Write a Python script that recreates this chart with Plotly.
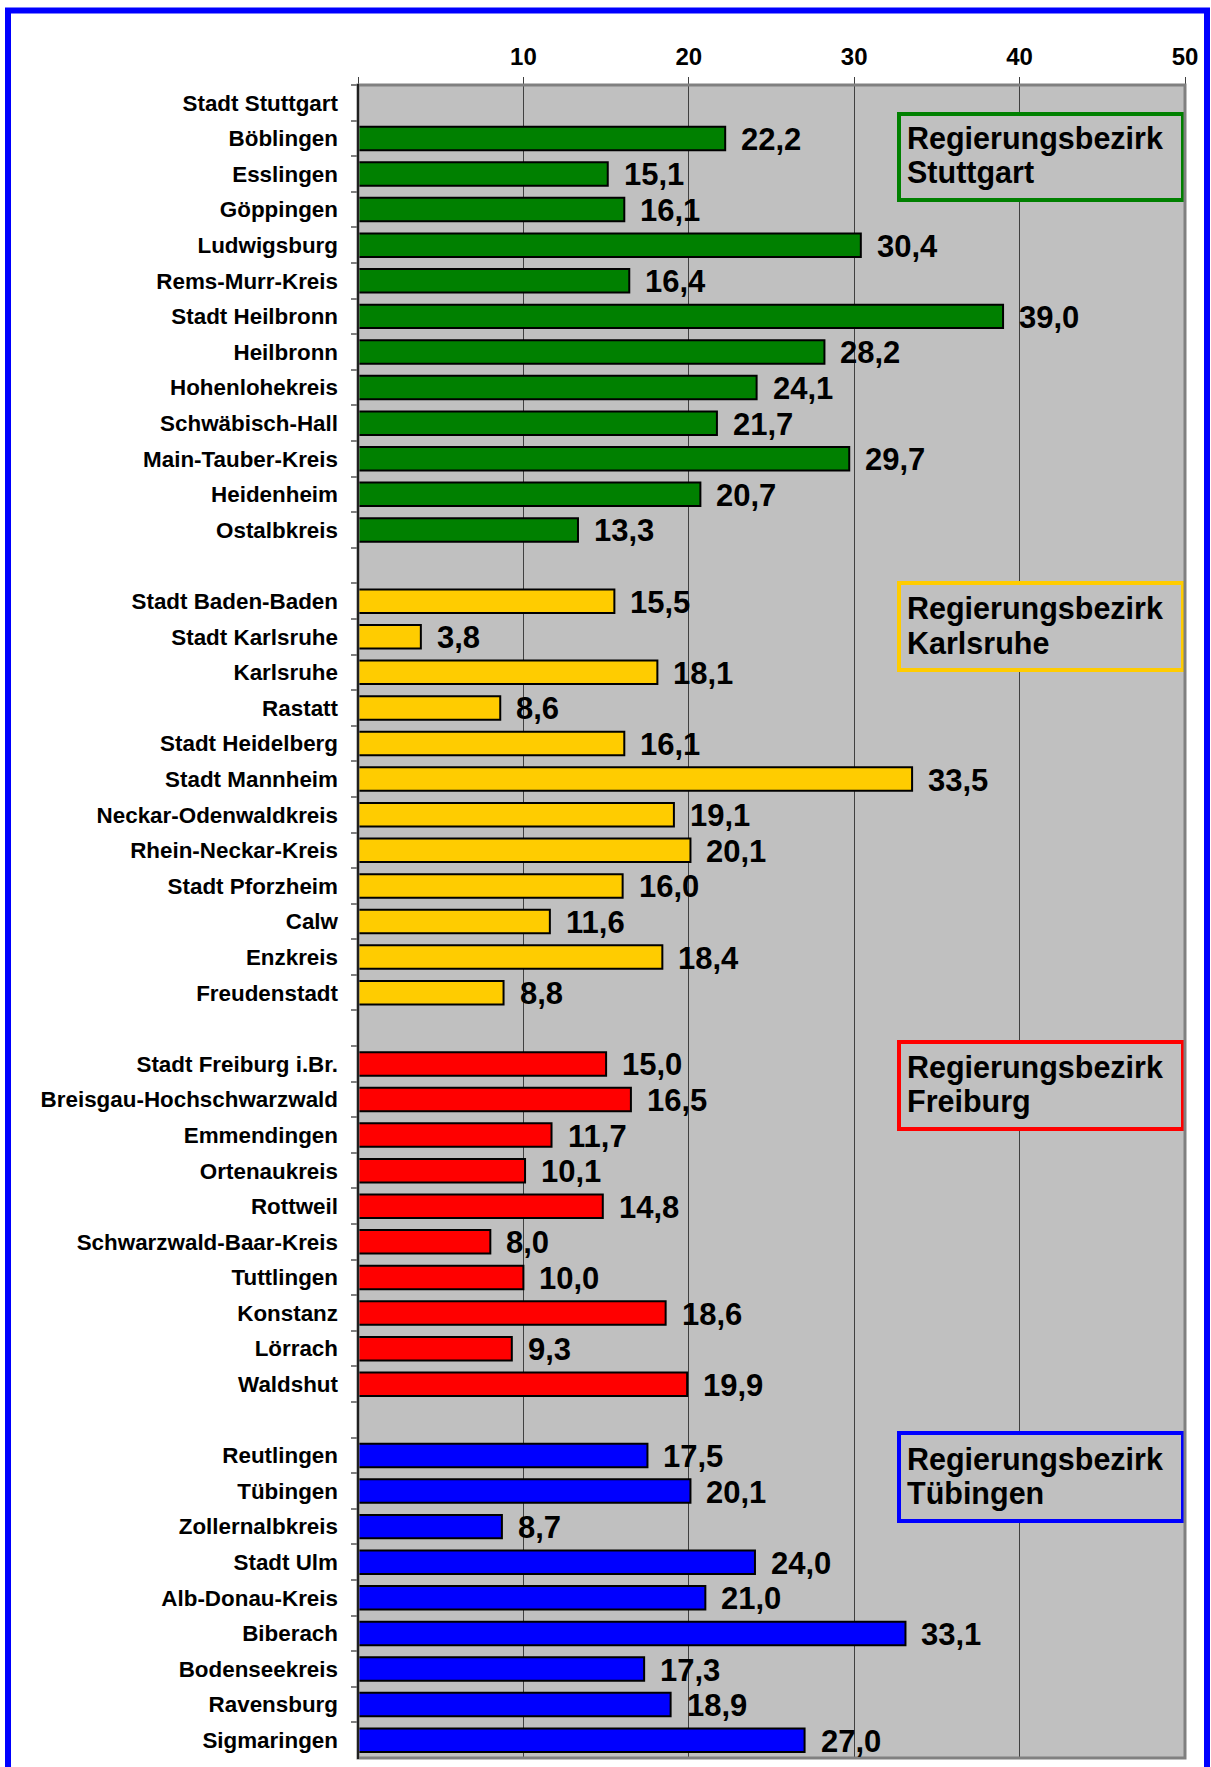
import plotly.graph_objects as go

# ---------------- data ----------------
stuttgart_names = ["Stadt Stuttgart", "Böblingen", "Esslingen", "Göppingen", "Ludwigsburg",
                   "Rems-Murr-Kreis", "Stadt Heilbronn", "Heilbronn", "Hohenlohekreis",
                   "Schwäbisch-Hall", "Main-Tauber-Kreis", "Heidenheim", "Ostalbkreis"]
stuttgart_values = [None, 22.2, 15.1, 16.1, 30.4, 16.4, 39.0, 28.2, 24.1, 21.7, 29.7, 20.7, 13.3]

karlsruhe_names = ["Stadt Baden-Baden", "Stadt Karlsruhe", "Karlsruhe", "Rastatt",
                   "Stadt Heidelberg", "Stadt Mannheim", "Neckar-Odenwaldkreis",
                   "Rhein-Neckar-Kreis", "Stadt Pforzheim", "Calw", "Enzkreis", "Freudenstadt"]
karlsruhe_values = [15.5, 3.8, 18.1, 8.6, 16.1, 33.5, 19.1, 20.1, 16.0, 11.6, 18.4, 8.8]

freiburg_names = ["Stadt Freiburg i.Br.", "Breisgau-Hochschwarzwald", "Emmendingen",
                  "Ortenaukreis", "Rottweil", "Schwarzwald-Baar-Kreis", "Tuttlingen",
                  "Konstanz", "Lörrach", "Waldshut"]
freiburg_values = [15.0, 16.5, 11.7, 10.1, 14.8, 8.0, 10.0, 18.6, 9.3, 19.9]

tuebingen_names = ["Reutlingen", "Tübingen", "Zollernalbkreis", "Stadt Ulm", "Alb-Donau-Kreis",
                   "Biberach", "Bodenseekreis", "Ravensburg", "Sigmaringen"]
tuebingen_values = [17.5, 20.1, 8.7, 24.0, 21.0, 33.1, 17.3, 18.9, 27.0]

group_title_line1 = ["Regierungsbezirk", "Regierungsbezirk", "Regierungsbezirk", "Regierungsbezirk"]
group_title_line2 = ["Stuttgart", "Karlsruhe", "Freiburg", "Tübingen"]
group_colors = ["#008000", "#FFCC00", "#FF0000", "#0000FF"]

x_tick_vals = [0, 10, 20, 30, 40, 50]
x_tick_text = ["", "10", "20", "30", "40", "50"]

# category order with blank separator slots between the groups
categories = (stuttgart_names + [" "] + karlsruhe_names + ["  "] +
              freiburg_names + ["   "] + tuebingen_names)

groups = [(stuttgart_names, stuttgart_values),
          (karlsruhe_names, karlsruhe_values),
          (freiburg_names, freiburg_values),
          (tuebingen_names, tuebingen_values)]

# ---------------- layout geometry (pixels) ----------------
W, H = 1211, 1767
PL, PR, PT, PB = 358, 1185, 85, 1758
pw, ph = PR - PL, PB - PT


def px_x(px):
    return (px - PL) / pw


def px_y(py):
    return 1 - (py - PT) / ph


FONT = "Liberation Sans, Arial, Helvetica, sans-serif"

fig = go.Figure()
for (names, vals), col in zip(groups, group_colors):
    fig.add_trace(go.Bar(
        y=names, x=vals, orientation="h",
        marker=dict(color=col, line=dict(color="black", width=2)),
        width=0.66, showlegend=False, hoverinfo="x+y",
    ))

annotations = []
for names, vals in groups:
    for n, v in zip(names, vals):
        if v is None:
            continue
        annotations.append(dict(
            x=v, y=n, xref="x", yref="y", xanchor="left", yanchor="middle",
            xshift=14, yshift=-1, showarrow=False,
            text=f"{v:.1f}".replace(".", ","),
            font=dict(family=FONT, size=31, color="black", weight="bold"),
        ))

# group boxes (outer pixel bounds)
box_px = [(112, 202), (581, 672), (1040, 1131), (1431, 1523)]
shapes = []
for (t, b), col, l1, l2 in zip(box_px, group_colors, group_title_line1, group_title_line2):
    shapes.append(dict(
        type="rect", xref="paper", yref="paper",
        x0=px_x(899), x1=px_x(1183), y0=px_y(t + 2), y1=px_y(b - 2),
        line=dict(color=col, width=4), fillcolor="#C0C0C0", layer="above",
    ))
    c = (t + b) / 2
    for txt, dy in ((l1, -18), (l2, 16)):
        annotations.append(dict(
            x=px_x(905), y=px_y(c + dy), xref="paper", yref="paper",
            xanchor="left", yanchor="middle", align="left", showarrow=False,
            text=txt, font=dict(family=FONT, size=30.5, color="black", weight="bold"),
        ))

# plot frame: gray top/right/bottom, black left
shapes.append(dict(type="rect", xref="paper", yref="paper", x0=0, x1=1, y0=0, y1=1,
                   line=dict(color="#808080", width=3), layer="above"))
shapes.append(dict(type="line", xref="paper", yref="paper", x0=0, x1=0,
                   y0=px_y(PB + 1), y1=px_y(PT - 1),
                   line=dict(color="black", width=1.5), layer="above"))
# outer blue frame
shapes.append(dict(type="rect", xref="paper", yref="paper",
                   x0=px_x(8), x1=px_x(1207), y0=px_y(1800), y1=px_y(10.5),
                   line=dict(color="#0000FF", width=6), layer="above"))

fig.update_layout(
    width=W, height=H, autosize=False,
    margin=dict(l=PL, r=W - PR, t=PT, b=H - PB, pad=0),
    paper_bgcolor="white", plot_bgcolor="#C0C0C0",
    barmode="overlay",
    font=dict(family=FONT, size=22, color="black", weight="bold"),
    xaxis=dict(
        side="top", range=[0, 50], tickvals=x_tick_vals, ticktext=x_tick_text,
        showgrid=True, gridcolor="#404040", gridwidth=1, zeroline=False,
        ticks="outside", ticklen=7, tickcolor="#404040", tickwidth=1,
        tickfont=dict(family=FONT, size=24, color="black", weight="bold"),
        ticklabelstandoff=2, showline=False, fixedrange=True,
    ),
    yaxis=dict(
        type="category", categoryorder="array", categoryarray=categories,
        range=[len(categories) - 0.5, -0.5], tickson="boundaries",
        ticks="outside", ticklen=6, tickcolor="#808080", tickwidth=2,
        showgrid=False, zeroline=False, showline=False,
        tickfont=dict(family=FONT, size=22.4, color="black", weight="bold"),
        ticklabelstandoff=19, fixedrange=True,
    ),
    shapes=shapes, annotations=annotations,
)

fig.write_html("out.html", config={"displayModeBar": False},
               post_script="document.body.style.margin='0';")
